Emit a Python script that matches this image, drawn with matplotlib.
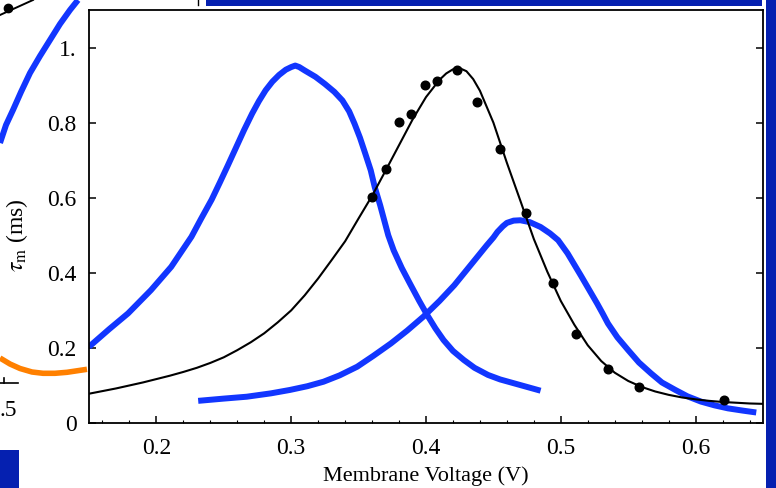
import matplotlib
matplotlib.use("Agg")
import matplotlib.pyplot as plt
from matplotlib.ticker import MultipleLocator

plt.rcParams["font.family"] = ["Liberation Serif", "DejaVu Serif"]
plt.rcParams["mathtext.fontset"] = "stix"

# Measured time constant (dots) and its fitted curve
volt_meas = [0.360, 0.370, 0.380, 0.389, 0.399, 0.408, 0.423, 0.438,
             0.455, 0.474, 0.494, 0.511, 0.535, 0.558, 0.621]
tau_meas = [0.601, 0.676, 0.803, 0.822, 0.899, 0.912, 0.941, 0.856,
            0.731, 0.559, 0.372, 0.237, 0.144, 0.096, 0.061]

volt_fit = [0.15, 0.16, 0.17, 0.18, 0.19, 0.20, 0.21, 0.22, 0.23, 0.24,
            0.25, 0.26, 0.27, 0.28, 0.29, 0.30, 0.31, 0.32, 0.33, 0.34,
            0.35, 0.36, 0.37, 0.38, 0.39, 0.40, 0.41, 0.415, 0.42, 0.425,
            0.43, 0.435, 0.44, 0.45, 0.46, 0.47, 0.48, 0.49, 0.50, 0.51,
            0.52, 0.53, 0.54, 0.55, 0.56, 0.57, 0.58, 0.59, 0.60, 0.61,
            0.62, 0.63, 0.64, 0.65]
tau_fit = [0.078, 0.085, 0.092, 0.100, 0.108, 0.117, 0.126, 0.136, 0.147,
           0.160, 0.175, 0.194, 0.215, 0.239, 0.268, 0.300, 0.340, 0.385,
           0.434, 0.484, 0.545, 0.605, 0.672, 0.740, 0.808, 0.868, 0.914,
           0.931, 0.942, 0.945, 0.937, 0.916, 0.885, 0.800, 0.693, 0.592,
           0.490, 0.403, 0.325, 0.262, 0.207, 0.165, 0.134, 0.112, 0.096,
           0.084, 0.075, 0.068, 0.063, 0.059, 0.056, 0.054, 0.052, 0.051]

# Model time constants (blue)
volt_model_a = [0.150, 0.165, 0.179, 0.196, 0.211, 0.226, 0.233, 0.241,
                0.247, 0.253, 0.259, 0.265, 0.271, 0.276, 0.281, 0.286,
                0.291, 0.296, 0.300, 0.303, 0.306, 0.310, 0.318, 0.325,
                0.332, 0.338, 0.343, 0.347, 0.351, 0.355, 0.359, 0.362,
                0.366, 0.369, 0.372, 0.376, 0.382, 0.388, 0.395, 0.401,
                0.407, 0.413, 0.420, 0.428, 0.436, 0.446, 0.455, 0.465,
                0.475, 0.485]
tau_model_a = [0.203, 0.250, 0.292, 0.354, 0.416, 0.496, 0.543, 0.595,
               0.640, 0.686, 0.733, 0.780, 0.824, 0.857, 0.886, 0.909,
               0.927, 0.941, 0.948, 0.952, 0.948, 0.939, 0.922, 0.903,
               0.882, 0.859, 0.830, 0.797, 0.760, 0.717, 0.673, 0.628,
               0.580, 0.540, 0.500, 0.460, 0.413, 0.372, 0.325, 0.287,
               0.252, 0.221, 0.192, 0.168, 0.147, 0.128, 0.116, 0.106,
               0.096, 0.086]

volt_model_b = [0.231, 0.250, 0.267, 0.285, 0.299, 0.312, 0.324, 0.336,
                0.349, 0.361, 0.374, 0.386, 0.398, 0.410, 0.421, 0.433,
                0.445, 0.450, 0.453, 0.457, 0.460, 0.465, 0.470, 0.477,
                0.485, 0.492, 0.498, 0.505, 0.515, 0.521, 0.527, 0.531,
                0.535, 0.542, 0.550, 0.558, 0.567, 0.575, 0.585, 0.594,
                0.604, 0.614, 0.624, 0.635, 0.645]
tau_model_b = [0.059, 0.065, 0.070, 0.079, 0.088, 0.098, 0.110, 0.127,
               0.150, 0.179, 0.212, 0.246, 0.283, 0.325, 0.367, 0.420,
               0.473, 0.494, 0.509, 0.524, 0.533, 0.539, 0.540, 0.535,
               0.522, 0.505, 0.487, 0.452, 0.392, 0.355, 0.318, 0.292,
               0.265, 0.228, 0.194, 0.161, 0.132, 0.108, 0.088, 0.071,
               0.057, 0.047, 0.039, 0.033, 0.028]

x_ticks = [0.2, 0.3, 0.4, 0.5, 0.6]
x_tick_labels = ["0.2", "0.3", "0.4", "0.5", "0.6"]
y_ticks = [0.0, 0.2, 0.4, 0.6, 0.8, 1.0]
y_tick_labels = ["0", "0.2", "0.4", "0.6", "0.8", "1."]

# Pieces of the neighbouring slide panels (page pixel coordinates)
arc_x = [0, 6, 13, 21, 30, 40, 50, 60, 70, 78]
arc_y = [143, 125, 110, 92, 73, 56, 40, 24, 10, 0]
orange_x = [0, 10, 20, 32, 43, 55, 67, 77, 87]
orange_y = [358, 364, 368.5, 372, 373.3, 373.3, 372.3, 370.8, 369.3]
corner_x = [0, 33]
corner_y = [15, 0]

BLUE = "#1236ff"
BAND = "#0520b0"
FS = 17

fig = plt.figure(figsize=(7.76, 4.88), dpi=100)

# Page layer behind the plot
page = fig.add_axes([0, 0, 1, 1], zorder=0)
page.set_xlim(0, 776)
page.set_ylim(488, 0)
page.axis("off")
page.add_patch(plt.Rectangle((206, 0), 556, 6, color=BAND, lw=0))
page.add_patch(plt.Rectangle((766, 0), 10, 488, color=BAND, lw=0))
page.add_patch(plt.Rectangle((0, 450), 19, 38, color=BAND, lw=0))
page.plot(arc_x, arc_y, color=BLUE, lw=4.3, solid_capstyle="butt")
page.plot(orange_x, orange_y, color="#ff8000", lw=4.0, solid_capstyle="butt")
page.plot(corner_x, corner_y, color="black", lw=1.4)
page.plot([8], [8], "o", color="black", ms=6)
page.plot([0, 18], [383, 383], color="black", lw=1.2)
page.plot([3.5, 3.5], [378, 383], color="black", lw=1.2)
page.plot([198, 198], [0, 5], color="black", lw=1.0)
page.text(17, 410, ".5", ha="right", va="center", fontsize=FS)

ax = fig.add_axes([89 / 776, 65 / 488, 674 / 776, 413 / 488], zorder=1)
ax.plot(volt_model_a, tau_model_a, color=BLUE, lw=4.3, solid_capstyle="butt",
        solid_joinstyle="round")
ax.plot(volt_model_b, tau_model_b, color=BLUE, lw=4.3, solid_capstyle="butt",
        solid_joinstyle="round")
ax.plot(volt_fit, tau_fit, color="black", lw=1.5, solid_joinstyle="round")
ax.plot(volt_meas, tau_meas, "o", color="black", ms=6.2)

ax.set_xlim(0.15, 0.65)
ax.set_ylim(0.0, 1.1)
ax.set_xticks(x_ticks)
ax.set_xticklabels(x_tick_labels)
ax.set_yticks(y_ticks)
ax.set_yticklabels(y_tick_labels)
ax.xaxis.set_minor_locator(MultipleLocator(0.02))
ax.tick_params(axis="x", which="major", direction="in", length=5, width=1.1,
               top=False, labelsize=FS, pad=11)
ax.tick_params(axis="x", which="minor", direction="in", length=2.5, width=0.8,
               top=False)
ax.tick_params(axis="y", which="major", direction="in", length=5, width=1.1,
               right=True, labelsize=FS, pad=9)
for s in ax.spines.values():
    s.set_linewidth(1.3)

ax.set_xlabel("Membrane Voltage (V)", fontsize=16, labelpad=5)
ax.set_ylabel(r"$\tau_{\rm m}$ (ms)", fontsize=FS)
ax.yaxis.set_label_coords(-0.088, 0.455)

fig.savefig("out.png", dpi=100)
